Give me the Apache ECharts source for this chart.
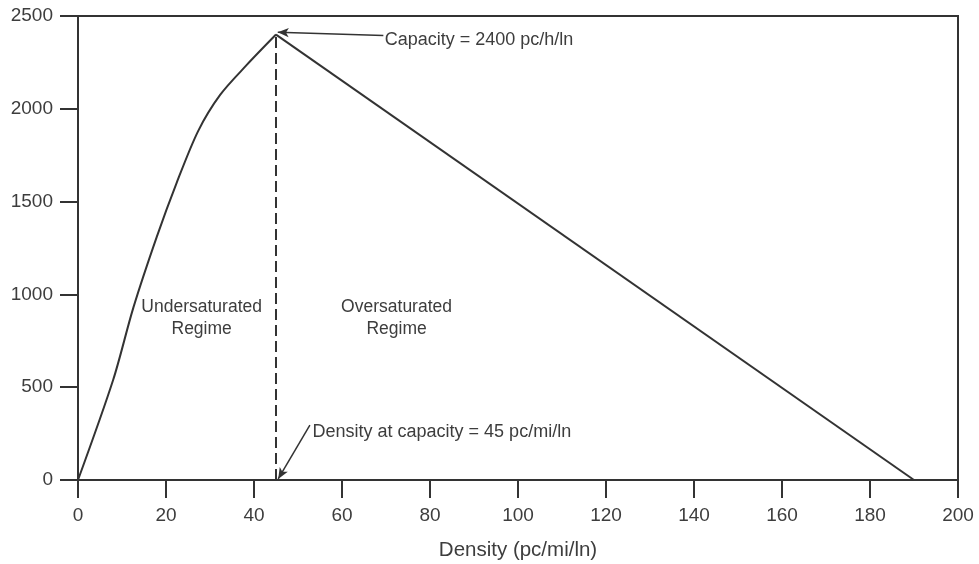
<!DOCTYPE html>
<html>
<head>
<meta charset="utf-8">
<script src="https://cdn.jsdelivr.net/npm/echarts@6/dist/echarts.min.js"></script>
<style>
  html, body { margin: 0; padding: 0; background: #fff; }
  #chart { width: 979px; height: 564px; }
</style>
</head>
<body>
<div id="chart"></div>
<script>
// Flow–density relationship for a basic freeway segment
var densityTicks = [0, 20, 40, 60, 80, 100, 120, 140, 160, 180, 200];
var flowTicks = [0, 500, 1000, 1500, 2000, 2500];

// Undersaturated branch (density pc/mi/ln, flow pc/h/ln)
var underDensity = [0, 8, 12.6, 17.9, 22.4, 27.3, 32.3, 38.3, 45];
var underFlow = [0, 540, 930, 1310, 1600, 1880, 2075, 2235, 2400];

// Oversaturated branch
var overDensity = [45, 190];
var overFlow = [2400, 0];

// Capacity point
var capacityDensity = 45;
var capacityFlow = 2400;

var xTitle = 'Density (pc/mi/ln)';
var capacityText = 'Capacity = 2400 pc/h/ln';
var densityText = 'Density at capacity = 45 pc/mi/ln';
var underText = 'Undersaturated\nRegime';
var overText = 'Oversaturated\nRegime';

function pairs(xs, ys) {
  return xs.map(function (x, i) { return [x, ys[i]]; });
}

var FONT = '"Liberation Sans Narrow", "Arial Narrow", "Liberation Sans", sans-serif';
var INK = '#333333';
var TXT = '#3d3d3d';

var chart = echarts.init(document.getElementById('chart'), null, { renderer: 'canvas' });

var noteStyle = { color: TXT, fontFamily: FONT, fontSize: 18 };
var regimeStyle = { color: TXT, fontFamily: FONT, fontSize: 17.5, lineHeight: 22 };

chart.setOption({
  animation: false,
  backgroundColor: '#ffffff',
  grid: {
    left: 78, right: 21, top: 16, bottom: 84,
    outerBoundsMode: 'none',
    containLabel: false,
    show: true, borderColor: INK, borderWidth: 2, backgroundColor: 'transparent'
  },
  xAxis: {
    type: 'value', min: 0, max: 200, interval: 20,
    name: xTitle, nameLocation: 'middle', nameGap: 60,
    nameTextStyle: { color: TXT, fontFamily: FONT, fontSize: 20.5 },
    axisLine: { show: true, lineStyle: { color: INK, width: 2 } },
    axisTick: { show: true, inside: false, length: 18, lineStyle: { color: INK, width: 2 } },
    axisLabel: {
      margin: 26, color: TXT, fontFamily: FONT, fontSize: 19,
      formatter: function (v) { return densityTicks.indexOf(v) >= 0 ? String(v) : ''; }
    },
    splitLine: { show: false }
  },
  yAxis: {
    type: 'value', min: 0, max: 2500, interval: 500,
    axisLine: { show: true, lineStyle: { color: INK, width: 2 } },
    axisTick: { show: true, inside: false, length: 18, lineStyle: { color: INK, width: 2 } },
    axisLabel: {
      margin: 25, color: TXT, fontFamily: FONT, fontSize: 19,
      formatter: function (v) { return flowTicks.indexOf(v) >= 0 ? String(v) : ''; }
    },
    splitLine: { show: false }
  },
  series: [
    {
      name: 'Undersaturated',
      type: 'line',
      data: pairs(underDensity, underFlow),
      symbol: 'none',
      smooth: 0.3,
      lineStyle: { color: INK, width: 2, join: 'round' },
      z: 3
    },
    {
      name: 'Oversaturated',
      type: 'line',
      data: pairs(overDensity, overFlow),
      symbol: 'none',
      lineStyle: { color: INK, width: 2 },
      z: 3
    },
    {
      name: 'Capacity line',
      type: 'line',
      data: [[capacityDensity, 0], [capacityDensity, capacityFlow]],
      symbol: 'none',
      lineStyle: { color: INK, width: 2, type: [11, 5] },
      z: 2,
      markLine: {
        silent: true,
        symbol: ['none', 'arrow'],
        symbolSize: [7, 11],
        label: { show: false },
        lineStyle: { color: INK, width: 1.5, type: 'solid' },
        data: [
          [{ coord: [69.4, 2395] }, { coord: [45.4, 2412] }],
          [{ coord: [52.7, 296] }, { coord: [45.5, 6] }]
        ]
      },
      markPoint: {
        silent: true,
        symbol: 'circle',
        symbolSize: 0,
        data: [
          { coord: [69.7, 2371], label: Object.assign({ show: true, position: 'right', distance: 0, formatter: capacityText }, noteStyle) },
          { coord: [53.3, 259], label: Object.assign({ show: true, position: 'right', distance: 0, formatter: densityText }, noteStyle) },
          { coord: [28.1, 870], label: Object.assign({ show: true, position: 'inside', formatter: underText, align: 'center' }, regimeStyle) },
          { coord: [72.4, 870], label: Object.assign({ show: true, position: 'inside', formatter: overText, align: 'center' }, regimeStyle) }
        ]
      }
    }
  ]
});
</script>
</body>
</html>
